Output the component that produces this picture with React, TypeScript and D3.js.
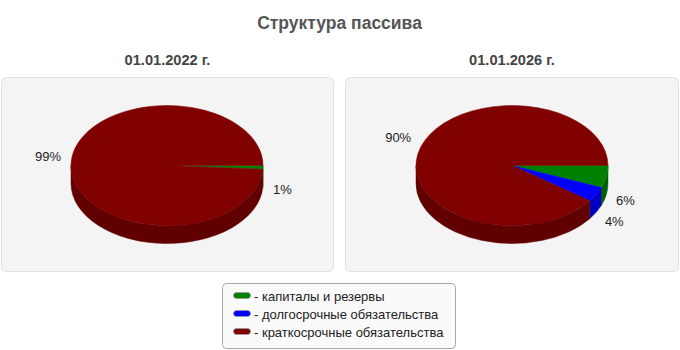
import React from "react";
import * as d3 from "d3";

const TITLE = "Структура пассива";
const DATES = ["01.01.2022 г.", "01.01.2026 г."];
const CATEGORIES = ["капиталы и резервы", "долгосрочные обязательства", "краткосрочные обязательства"];
const COLORS = ["#008000", "#0000ff", "#800000"];
const SIDE_COLORS = ["#006000", "#0000c0", "#600000"];
const VALUES_2022 = [1, 0, 99];
const VALUES_2026 = [6, 4, 90];
const SERIES = [VALUES_2022, VALUES_2026];

const W = 680;
const H = 350;
const RX = 96;
const RY = 60;
const DEPTH = 18;
const FONT = "Arial, 'Liberation Sans', sans-serif";

type Slice = { i: number; v: number; t0: number; t1: number };

function Pie3D({ cx, cy, values }: { cx: number; cy: number; values: number[] }) {
  const pie = d3
    .pie<number>()
    .sort(null)
    .value((d) => d)
    .startAngle(Math.PI / 2)
    .endAngle(Math.PI / 2 + 2 * Math.PI);
  const arcs = pie(values);
  const total = d3.sum(values);
  const slices: Slice[] = arcs.map((a, i) => ({
    i,
    v: a.value,
    t0: a.startAngle - Math.PI / 2,
    t1: a.endAngle - Math.PI / 2,
  }));
  const px = (t: number, r = RX) => cx + r * Math.cos(t);
  const py = (t: number, r = RY) => cy + r * Math.sin(t);

  const sides: React.ReactNode[] = [];
  const tops: React.ReactNode[] = [];
  const labels: React.ReactNode[] = [];

  slices.forEach((s) => {
    if (s.v <= 0) return;
    const a0 = Math.max(s.t0, 0);
    const a1 = Math.min(s.t1, Math.PI);
    if (a1 > a0) {
      const d = [
        `M${px(a0)},${py(a0)}`,
        `A${RX},${RY} 0 0 1 ${px(a1)},${py(a1)}`,
        `L${px(a1)},${py(a1) + DEPTH}`,
        `A${RX},${RY} 0 0 0 ${px(a0)},${py(a0) + DEPTH}`,
        "Z",
      ].join(" ");
      sides.push(<path key={"s" + s.i} d={d} fill={SIDE_COLORS[s.i]} stroke={SIDE_COLORS[s.i]} strokeWidth={0.5} />);
    }
    const span = s.t1 - s.t0;
    let d: string;
    if (span >= 2 * Math.PI - 1e-9) {
      d = `M${cx - RX},${cy} A${RX},${RY} 0 1 1 ${cx + RX},${cy} A${RX},${RY} 0 1 1 ${cx - RX},${cy} Z`;
    } else {
      d = [
        `M${cx},${cy}`,
        `L${px(s.t0)},${py(s.t0)}`,
        `A${RX},${RY} 0 ${span > Math.PI ? 1 : 0} 1 ${px(s.t1)},${py(s.t1)}`,
        "Z",
      ].join(" ");
    }
    tops.push(<path key={"t" + s.i} d={d} fill={COLORS[s.i]} stroke={COLORS[s.i]} strokeWidth={0.5} />);

    const tm = (s.t0 + s.t1) / 2;
    const c = Math.cos(tm);
    const sn = Math.sin(tm);
    const lx = px(tm, RX + 10);
    const lyBase = py(tm, RY + 10);
    const ly = sn > 0 ? lyBase + 21.8 : lyBase - 6.5;
    labels.push(
      <text
        key={"l" + s.i}
        x={lx}
        y={ly}
        textAnchor={c >= 0 ? "start" : "end"}
        dominantBaseline="central"
        fontFamily={FONT}
        fontSize={13}
        fill="#222"
      >
        {Math.round((s.v / total) * 100) + "%"}
      </text>
    );
  });

  return (
    <g>
      {sides}
      {tops}
      {labels}
    </g>
  );
}

export default function App() {
  const panels = [
    { x: 1.5, y: 77.5, w: 332, h: 194, cx: 167, cy: 165.5 },
    { x: 345.5, y: 77.5, w: 333, h: 194, cx: 512, cy: 165.5 },
  ];
  return (
    <svg width={W} height={H} style={{ position: "absolute", left: 0, top: 0, background: "#fff" }}>
      <text x={339.5} y={29} textAnchor="middle" fontFamily={FONT} fontWeight="bold" fontSize={17.5} fill="#555">
        {TITLE}
      </text>
      {panels.map((p, k) => (
        <g key={k}>
          <text
            x={p.x + p.w / 2}
            y={65}
            textAnchor="middle"
            fontFamily={FONT}
            fontWeight="bold"
            fontSize={14.6}
            fill="#444"
          >
            {DATES[k]}
          </text>
          <rect x={p.x} y={p.y} width={p.w} height={p.h} rx={5} fill="#f4f4f4" stroke="#e2e2e2" />
          <Pie3D cx={p.cx} cy={p.cy} values={SERIES[k]} />
        </g>
      ))}
      <g>
        <rect x={222.5} y={283.5} width={233} height={65} rx={4} fill="#fafafa" stroke="#a8a8a8" />
        {CATEGORIES.map((c, i) => (
          <g key={c}>
            <rect x={233.5} y={292.5 + i * 18} width={17} height={6} rx={3} fill={COLORS[i]} stroke="#999" strokeWidth={0.8} />
            <text x={254} y={296.5 + i * 18.2} dominantBaseline="central" fontFamily={FONT} fontSize={13} fill="#222">
              {"- " + c}
            </text>
          </g>
        ))}
      </g>
    </svg>
  );
}
